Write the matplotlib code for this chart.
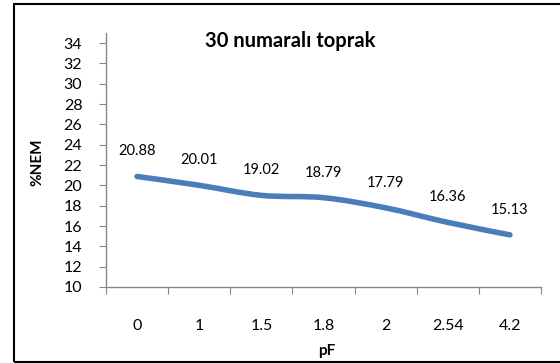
import matplotlib
matplotlib.use("Agg")
import matplotlib.pyplot as plt
from matplotlib.path import Path
from matplotlib.patches import PathPatch, Rectangle

categories = ["0", "1", "1.5", "1.8", "2", "2.54", "4.2"]
nem_values = [20.88, 20.01, 19.02, 18.79, 17.79, 16.36, 15.13]
y_ticks = [10, 12, 14, 16, 18, 20, 22, 24, 26, 28, 30, 32, 34]

title = "30 numaralı toprak"
x_label = "pF"
y_label = "%NEM"

plt.rcParams["font.family"] = ["Lato", "DejaVu Sans"]

W, H = 560, 363
fig = plt.figure(figsize=(W / 100, H / 100), dpi=100)

# chart area frame
fig.patches.append(Rectangle((14 / W, 1 - 362 / H), (W + 5 - 14) / W, (362 - 4) / H,
                             transform=fig.transFigure, fill=False,
                             edgecolor="black", linewidth=1.5))

left, right, top, bottom = 106, 541, 33, 287
ax = fig.add_axes([left / W, 1 - bottom / H, (right - left) / W, (bottom - top) / H])

n = len(categories)
xs = list(range(n))

# smoothed line through the points (cubic Bezier segments)
verts = [(xs[0], nem_values[0])]
codes = [Path.MOVETO]
for i in range(n - 1):
    p0 = (xs[max(i - 1, 0)], nem_values[max(i - 1, 0)])
    p1 = (xs[i], nem_values[i])
    p2 = (xs[i + 1], nem_values[i + 1])
    p3 = (xs[min(i + 2, n - 1)], nem_values[min(i + 2, n - 1)])
    c1 = (p1[0] + (p2[0] - p0[0]) / 6, p1[1] + (p2[1] - p0[1]) / 6)
    c2 = (p2[0] - (p3[0] - p1[0]) / 6, p2[1] - (p3[1] - p1[1]) / 6)
    verts += [c1, c2, p2]
    codes += [Path.CURVE4] * 3
ax.add_patch(PathPatch(Path(verts, codes), fill=False, edgecolor="#4A7EBB",
                       linewidth=4.0, capstyle="round", joinstyle="round"))

for x, v in zip(xs, nem_values):
    ax.annotate(f"{v:.2f}", (x, v), xytext=(0, 13), textcoords="offset points",
                ha="center", va="bottom", fontsize=10.5, color="black")

ax.set_xlim(-0.5, n - 0.5)
ax.set_ylim(10, 35)
ax.set_yticks(y_ticks)
ax.set_yticklabels([str(t) for t in y_ticks], fontsize=11.5)
ax.set_xticks([i - 0.5 for i in range(n + 1)], minor=False)
ax.set_xticklabels([""] * (n + 1))
ax.set_xticks(xs, minor=True)
ax.set_xticklabels(categories, minor=True, fontsize=11.5)
ax.tick_params(axis="x", which="minor", length=0, pad=23)
ax.tick_params(axis="x", which="major", length=5, color="#868686", direction="out")
ax.tick_params(axis="y", length=5, color="#868686", direction="out", pad=12)

for s in ("top", "right"):
    ax.spines[s].set_visible(False)
for s in ("left", "bottom"):
    ax.spines[s].set_color("#868686")
    ax.spines[s].set_linewidth(1.0)

fig.text(290 / W, 1 - 41 / H, title, ha="center", va="center",
         fontsize=14.5, fontweight="bold")
fig.text(37 / W, 1 - 162 / H, y_label, ha="center", va="center",
         rotation=90, fontsize=11, fontweight="bold")
fig.text(327 / W, 1 - 351 / H, x_label, ha="center", va="center",
         fontsize=11, fontweight="bold")

fig.savefig("out.png", dpi=100)
